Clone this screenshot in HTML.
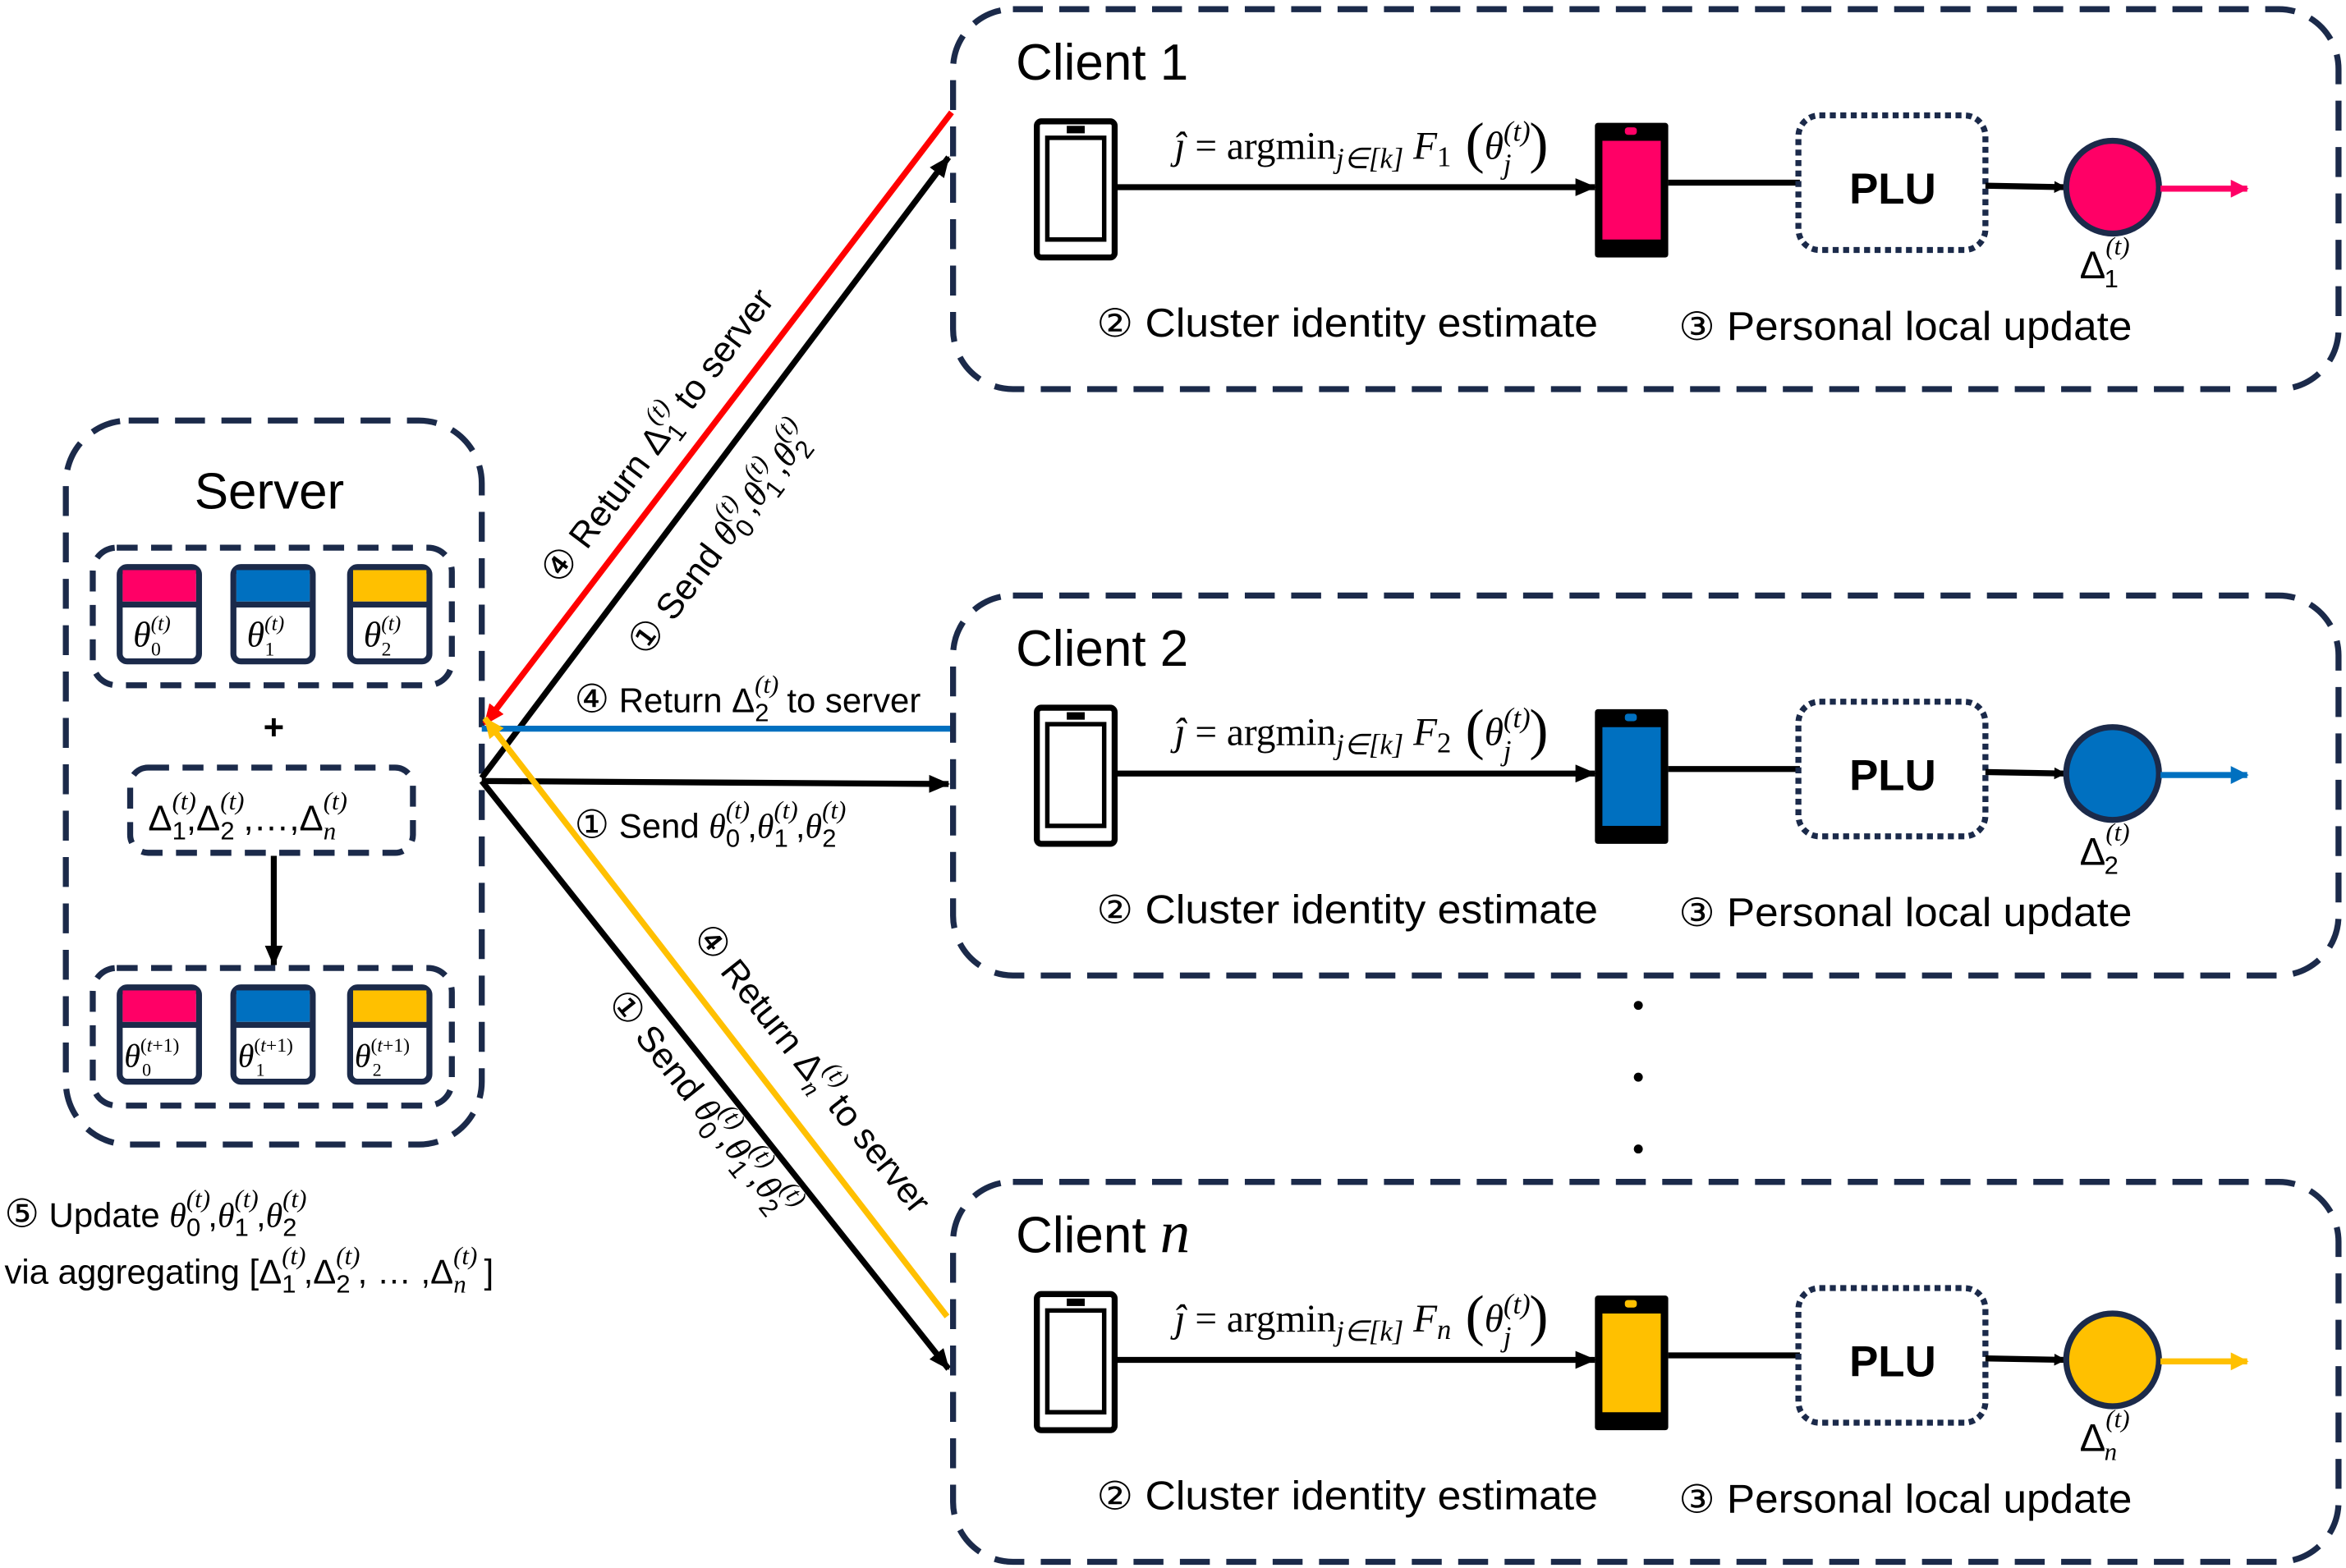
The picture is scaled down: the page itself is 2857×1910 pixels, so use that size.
<!DOCTYPE html>
<html><head><meta charset="utf-8"><style>html,body{margin:0;padding:0;background:#fff}svg{display:block}
.sp{font-size:17px}.m{font-family:"Liberation Serif",serif;font-style:italic}.c{font-family:"DejaVu Sans",sans-serif;font-size:26px}
</style></head>
<body>
<svg width="2857" height="1910" viewBox="0 0 1568 1048" xmlns="http://www.w3.org/2000/svg" font-family="Liberation Sans, DejaVu Sans, sans-serif">
<defs>
<marker id="ab" markerWidth="8" markerHeight="8" refX="7" refY="4" orient="auto" markerUnits="userSpaceOnUse"><path d="M0,0 L8,4 L0,8 z" fill="#000"/></marker>
<marker id="abig" markerWidth="14" markerHeight="12" refX="13" refY="6" orient="auto" markerUnits="userSpaceOnUse"><path d="M0,0 L14,6 L0,12 z" fill="#000"/></marker>
<marker id="ar" markerWidth="14" markerHeight="12" refX="13" refY="6" orient="auto" markerUnits="userSpaceOnUse"><path d="M0,0 L14,6 L0,12 z" fill="#ff0000"/></marker>
<marker id="ay" markerWidth="14" markerHeight="12" refX="13" refY="6" orient="auto" markerUnits="userSpaceOnUse"><path d="M0,0 L14,6 L0,12 z" fill="#ffc000"/></marker>
<marker id="ap" markerWidth="12" markerHeight="12" refX="11" refY="6" orient="auto" markerUnits="userSpaceOnUse"><path d="M0,0 L12,6 L0,12 z" fill="#ff0066"/></marker>
<marker id="abl" markerWidth="12" markerHeight="12" refX="11" refY="6" orient="auto" markerUnits="userSpaceOnUse"><path d="M0,0 L12,6 L0,12 z" fill="#0070c0"/></marker>
<marker id="ayl" markerWidth="12" markerHeight="12" refX="11" refY="6" orient="auto" markerUnits="userSpaceOnUse"><path d="M0,0 L12,6 L0,12 z" fill="#ffc000"/></marker>
</defs>

<!-- SERVER -->
<rect x="44" y="281" width="278" height="484" rx="42" fill="none" stroke="#1b2a4a" stroke-width="4" stroke-dasharray="20 11"/>
<text x="180" y="340" font-size="34" text-anchor="middle">Server</text>
<rect x="62" y="366" width="240" height="92" rx="16" fill="none" stroke="#1b2a4a" stroke-width="4" stroke-dasharray="14 9"/>
<g stroke="#1b2a4a" stroke-width="4">
<rect x="80" y="379" width="53" height="63" rx="5" fill="#fff"/><rect x="82" y="381" width="49" height="21" fill="#ff0066" stroke="none"/><line x1="80" y1="404" x2="133" y2="404"/>
<rect x="156" y="379" width="53" height="63" rx="5" fill="#fff"/><rect x="158" y="381" width="49" height="21" fill="#0070c0" stroke="none"/><line x1="156" y1="404" x2="209" y2="404"/>
<rect x="234" y="379" width="53" height="63" rx="5" fill="#fff"/><rect x="236" y="381" width="49" height="21" fill="#ffc000" stroke="none"/><line x1="234" y1="404" x2="287" y2="404"/>
</g>
<g font-family="Liberation Serif, serif" font-style="italic">
<text x="89" y="432" font-size="24">θ<tspan font-size="14" dy="-11">(t)</tspan></text><text x="101" y="438" font-size="13" font-style="normal">0</text>
<text x="165" y="432" font-size="24">θ<tspan font-size="14" dy="-11">(t)</tspan></text><text x="177" y="438" font-size="13" font-style="normal">1</text>
<text x="243" y="432" font-size="24">θ<tspan font-size="14" dy="-11">(t)</tspan></text><text x="255" y="438" font-size="13" font-style="normal">2</text>
</g>
<text x="183" y="494" font-size="24" font-weight="bold" text-anchor="middle">+</text>
<rect x="87" y="513" width="189" height="57" rx="12" fill="none" stroke="#1b2a4a" stroke-width="4" stroke-dasharray="14 9"/>
<text x="99" y="555" font-size="24">Δ<tspan class="sp m" dy="-14">(t)</tspan><tspan class="sp" dx="-16" dy="20">1</tspan><tspan dy="-6">,Δ</tspan><tspan class="sp m" dy="-14">(t)</tspan><tspan class="sp" dx="-16" dy="20">2</tspan><tspan dy="-6" dx="6">,…,Δ</tspan><tspan class="sp m" dy="-14">(t)</tspan><tspan class="sp m" dx="-16" dy="20">n</tspan></text>
<line x1="183" y1="572" x2="183" y2="645" stroke="#000" stroke-width="4" marker-end="url(#abig)"/>
<rect x="62" y="647" width="240" height="92" rx="16" fill="none" stroke="#1b2a4a" stroke-width="4" stroke-dasharray="14 9"/>
<g stroke="#1b2a4a" stroke-width="4">
<rect x="80" y="660" width="53" height="63" rx="5" fill="#fff"/><rect x="82" y="662" width="49" height="21" fill="#ff0066" stroke="none"/><line x1="80" y1="685" x2="133" y2="685"/>
<rect x="156" y="660" width="53" height="63" rx="5" fill="#fff"/><rect x="158" y="662" width="49" height="21" fill="#0070c0" stroke="none"/><line x1="156" y1="685" x2="209" y2="685"/>
<rect x="234" y="660" width="53" height="63" rx="5" fill="#fff"/><rect x="236" y="662" width="49" height="21" fill="#ffc000" stroke="none"/><line x1="234" y1="685" x2="287" y2="685"/>
</g>
<g font-family="Liberation Serif, serif" font-style="italic">
<text x="83" y="713" font-size="22">θ<tspan font-size="13" dy="-10" font-style="normal">(</tspan><tspan font-size="13">t</tspan><tspan font-size="13" font-style="normal">+1)</tspan></text><text x="95" y="719" font-size="12" font-style="normal">0</text>
<text x="159" y="713" font-size="22">θ<tspan font-size="13" dy="-10" font-style="normal">(</tspan><tspan font-size="13">t</tspan><tspan font-size="13" font-style="normal">+1)</tspan></text><text x="171" y="719" font-size="12" font-style="normal">1</text>
<text x="237" y="713" font-size="22">θ<tspan font-size="13" dy="-10" font-style="normal">(</tspan><tspan font-size="13">t</tspan><tspan font-size="13" font-style="normal">+1)</tspan></text><text x="249" y="719" font-size="12" font-style="normal">2</text>
</g>

<!-- step 5 -->
<text x="3" y="820" font-size="23"><tspan class="c">⑤</tspan> Update  <tspan class="m">θ</tspan><tspan class="sp m" dy="-13">(t)</tspan><tspan class="sp" dx="-16" dy="19">0</tspan><tspan dx="5" dy="-6">,</tspan><tspan class="m">θ</tspan><tspan class="sp m" dy="-13">(t)</tspan><tspan class="sp" dx="-16" dy="19">1</tspan><tspan dx="5" dy="-6">,</tspan><tspan class="m">θ</tspan><tspan class="sp m" dy="-13">(t)</tspan><tspan class="sp" dx="-16" dy="19">2</tspan></text>
<text x="3" y="858" font-size="23">via aggregating [Δ<tspan class="sp m" dy="-13">(t)</tspan><tspan class="sp" dx="-16" dy="19">1</tspan><tspan dx="5" dy="-6">,Δ</tspan><tspan class="sp m" dy="-13">(t)</tspan><tspan class="sp" dx="-16" dy="19">2</tspan><tspan dx="5" dy="-6">, … ,Δ</tspan><tspan class="sp m" dy="-13">(t)</tspan><tspan class="sp m" dx="-16" dy="19">n</tspan><tspan dx="12" dy="-6">]</tspan></text>

<!-- connectors -->
<line x1="322" y1="520" x2="634" y2="105" stroke="#000" stroke-width="4" marker-end="url(#abig)"/>
<line x1="636" y1="75" x2="324" y2="484" stroke="#ff0000" stroke-width="4" marker-end="url(#ar)"/>
<line x1="636" y1="487" x2="322" y2="487" stroke="#0070c0" stroke-width="4"/>
<line x1="322" y1="522" x2="634" y2="524" stroke="#000" stroke-width="4" marker-end="url(#abig)"/>
<line x1="633" y1="880" x2="324" y2="480" stroke="#ffc000" stroke-width="4" marker-end="url(#ay)"/>
<line x1="322" y1="522" x2="634" y2="915" stroke="#000" stroke-width="4" marker-end="url(#abig)"/>

<text x="384" y="476" font-size="23"><tspan class="c">④</tspan> Return Δ<tspan class="sp m" dy="-13">(t)</tspan><tspan class="sp" dx="-16" dy="19">2</tspan><tspan dx="12" dy="-6">to server</tspan></text>
<text x="384" y="560" font-size="23"><tspan class="c">①</tspan> Send <tspan class="m">θ</tspan><tspan class="sp m" dy="-13">(t)</tspan><tspan class="sp" dx="-16" dy="19">0</tspan><tspan dx="5" dy="-6">,</tspan><tspan class="m">θ</tspan><tspan class="sp m" dy="-13">(t)</tspan><tspan class="sp" dx="-16" dy="19">1</tspan><tspan dx="5" dy="-6">,</tspan><tspan class="m">θ</tspan><tspan class="sp m" dy="-13">(t)</tspan><tspan class="sp" dx="-16" dy="19">2</tspan></text>

<g transform="translate(374,392) rotate(-53)"><text x="0" y="0" font-size="24"><tspan class="c">④</tspan> Return Δ<tspan class="sp m" dy="-13">(t)</tspan><tspan class="sp" dx="-16" dy="19">1</tspan><tspan dx="12" dy="-6">to server</tspan></text></g>
<g transform="translate(432,440) rotate(-53)"><text x="0" y="0" font-size="24"><tspan class="c">①</tspan> Send <tspan class="m">θ</tspan><tspan class="sp m" dy="-13">(t)</tspan><tspan class="sp" dx="-16" dy="19">0</tspan><tspan dx="5" dy="-6">,</tspan><tspan class="m">θ</tspan><tspan class="sp m" dy="-13">(t)</tspan><tspan class="sp" dx="-16" dy="19">1</tspan><tspan dx="5" dy="-6">,</tspan><tspan class="m">θ</tspan><tspan class="sp m" dy="-13">(t)</tspan><tspan class="sp" dx="-16" dy="19">2</tspan></text></g>
<g transform="translate(462,626) rotate(51.5)"><text x="0" y="0" font-size="24"><tspan class="c">④</tspan> Return Δ<tspan class="sp m" dy="-13">(t)</tspan><tspan class="sp m" dx="-16" dy="19">n</tspan><tspan dx="12" dy="-6">to server</tspan></text></g>
<g transform="translate(405,670) rotate(51.5)"><text x="0" y="0" font-size="24"><tspan class="c">①</tspan> Send <tspan class="m">θ</tspan><tspan class="sp m" dy="-13">(t)</tspan><tspan class="sp" dx="-16" dy="19">0</tspan><tspan dx="5" dy="-6">,</tspan><tspan class="m">θ</tspan><tspan class="sp m" dy="-13">(t)</tspan><tspan class="sp" dx="-16" dy="19">1</tspan><tspan dx="5" dy="-6">,</tspan><tspan class="m">θ</tspan><tspan class="sp m" dy="-13">(t)</tspan><tspan class="sp" dx="-16" dy="19">2</tspan></text></g>

<!-- dots -->
<circle cx="1095" cy="672" r="3" fill="#000"/><circle cx="1095" cy="720" r="3" fill="#000"/><circle cx="1095" cy="768" r="3" fill="#000"/>

<!-- CLIENTS -->
<g>
<rect x="637" y="6" width="926" height="254" rx="40" fill="none" stroke="#1b2a4a" stroke-width="4" stroke-dasharray="20 11"/>
<text x="679" y="53" font-size="34">Client 1</text>
<rect x="693" y="81" width="52" height="91" rx="3" fill="#fff" stroke="#000" stroke-width="4"/>
<rect x="700" y="92" width="38" height="68" fill="none" stroke="#000" stroke-width="3"/>
<rect x="713" y="84" width="12" height="5" fill="#000"/>
<line x1="745" y1="125" x2="1066" y2="125" stroke="#000" stroke-width="4" marker-end="url(#abig)"/>
<text x="785" y="106" font-family="Liberation Serif, serif" font-size="26"><tspan font-style="italic">ĵ</tspan> = argmin<tspan font-size="19" dy="6" font-style="italic">j∈[k]</tspan><tspan dy="-6" font-style="italic"> F</tspan><tspan font-size="19" dy="5">1</tspan><tspan dy="-3" font-size="38"> (</tspan><tspan font-style="italic" dy="-2">θ</tspan><tspan font-size="19" dy="-12" font-style="italic">(t)</tspan><tspan font-size="19" dx="-18" dy="22" font-style="italic">j</tspan><tspan font-size="38" dx="12" dy="-8">)</tspan></text>
<rect x="1066" y="82" width="49" height="90" rx="2" fill="#000"/>
<rect x="1071" y="94" width="39" height="66" fill="#ff0066"/>
<rect x="1086" y="85" width="8" height="5" rx="2" fill="#ff0066"/>
<line x1="1115" y1="122" x2="1203" y2="122" stroke="#000" stroke-width="4"/>
<rect x="1202" y="77" width="125" height="90" rx="14" fill="none" stroke="#1b2a4a" stroke-width="4" stroke-dasharray="4 3"/>
<text x="1265" y="136" font-size="29" font-weight="bold" text-anchor="middle">PLU</text>
<line x1="1327" y1="124" x2="1380" y2="125" stroke="#000" stroke-width="4" marker-end="url(#ab)"/>
<ellipse cx="1412" cy="125" rx="31" ry="31" fill="#ff0066" stroke="#1b2a4a" stroke-width="4"/>
<line x1="1444" y1="126" x2="1502" y2="126" stroke="#ff0066" stroke-width="4" marker-end="url(#ap)"/>
<text x="1390" y="186" font-size="26">Δ<tspan class="sp m" dy="-16">(t)</tspan><tspan class="sp" dx="-17" dy="22">1</tspan></text>
<text x="733" y="225" font-size="27" textLength="335" lengthAdjust="spacingAndGlyphs"><tspan class="c">②</tspan> Cluster identity estimate</text>
<text x="1122" y="227" font-size="27" textLength="303" lengthAdjust="spacingAndGlyphs"><tspan class="c">③</tspan> Personal local update</text>
</g>
<g transform="translate(0,392)">
<rect x="637" y="6" width="926" height="254" rx="40" fill="none" stroke="#1b2a4a" stroke-width="4" stroke-dasharray="20 11"/>
<text x="679" y="53" font-size="34">Client 2</text>
<rect x="693" y="81" width="52" height="91" rx="3" fill="#fff" stroke="#000" stroke-width="4"/>
<rect x="700" y="92" width="38" height="68" fill="none" stroke="#000" stroke-width="3"/>
<rect x="713" y="84" width="12" height="5" fill="#000"/>
<line x1="745" y1="125" x2="1066" y2="125" stroke="#000" stroke-width="4" marker-end="url(#abig)"/>
<text x="785" y="106" font-family="Liberation Serif, serif" font-size="26"><tspan font-style="italic">ĵ</tspan> = argmin<tspan font-size="19" dy="6" font-style="italic">j∈[k]</tspan><tspan dy="-6" font-style="italic"> F</tspan><tspan font-size="19" dy="5">2</tspan><tspan dy="-3" font-size="38"> (</tspan><tspan font-style="italic" dy="-2">θ</tspan><tspan font-size="19" dy="-12" font-style="italic">(t)</tspan><tspan font-size="19" dx="-18" dy="22" font-style="italic">j</tspan><tspan font-size="38" dx="12" dy="-8">)</tspan></text>
<rect x="1066" y="82" width="49" height="90" rx="2" fill="#000"/>
<rect x="1071" y="94" width="39" height="66" fill="#0070c0"/>
<rect x="1086" y="85" width="8" height="5" rx="2" fill="#0070c0"/>
<line x1="1115" y1="122" x2="1203" y2="122" stroke="#000" stroke-width="4"/>
<rect x="1202" y="77" width="125" height="90" rx="14" fill="none" stroke="#1b2a4a" stroke-width="4" stroke-dasharray="4 3"/>
<text x="1265" y="136" font-size="29" font-weight="bold" text-anchor="middle">PLU</text>
<line x1="1327" y1="124" x2="1380" y2="125" stroke="#000" stroke-width="4" marker-end="url(#ab)"/>
<ellipse cx="1412" cy="125" rx="31" ry="31" fill="#0070c0" stroke="#1b2a4a" stroke-width="4"/>
<line x1="1444" y1="126" x2="1502" y2="126" stroke="#0070c0" stroke-width="4" marker-end="url(#abl)"/>
<text x="1390" y="186" font-size="26">Δ<tspan class="sp m" dy="-16">(t)</tspan><tspan class="sp" dx="-17" dy="22">2</tspan></text>
<text x="733" y="225" font-size="27" textLength="335" lengthAdjust="spacingAndGlyphs"><tspan class="c">②</tspan> Cluster identity estimate</text>
<text x="1122" y="227" font-size="27" textLength="303" lengthAdjust="spacingAndGlyphs"><tspan class="c">③</tspan> Personal local update</text>
</g>
<g transform="translate(0,784)">
<rect x="637" y="6" width="926" height="254" rx="40" fill="none" stroke="#1b2a4a" stroke-width="4" stroke-dasharray="20 11"/>
<text x="679" y="53" font-size="34">Client <tspan font-family="Liberation Serif, serif" font-style="italic" font-size="40">n</tspan></text>
<rect x="693" y="81" width="52" height="91" rx="3" fill="#fff" stroke="#000" stroke-width="4"/>
<rect x="700" y="92" width="38" height="68" fill="none" stroke="#000" stroke-width="3"/>
<rect x="713" y="84" width="12" height="5" fill="#000"/>
<line x1="745" y1="125" x2="1066" y2="125" stroke="#000" stroke-width="4" marker-end="url(#abig)"/>
<text x="785" y="106" font-family="Liberation Serif, serif" font-size="26"><tspan font-style="italic">ĵ</tspan> = argmin<tspan font-size="19" dy="6" font-style="italic">j∈[k]</tspan><tspan dy="-6" font-style="italic"> F</tspan><tspan font-size="19" dy="5" font-style="italic">n</tspan><tspan dy="-3" font-size="38"> (</tspan><tspan font-style="italic" dy="-2">θ</tspan><tspan font-size="19" dy="-12" font-style="italic">(t)</tspan><tspan font-size="19" dx="-18" dy="22" font-style="italic">j</tspan><tspan font-size="38" dx="12" dy="-8">)</tspan></text>
<rect x="1066" y="82" width="49" height="90" rx="2" fill="#000"/>
<rect x="1071" y="94" width="39" height="66" fill="#ffc000"/>
<rect x="1086" y="85" width="8" height="5" rx="2" fill="#ffc000"/>
<line x1="1115" y1="122" x2="1203" y2="122" stroke="#000" stroke-width="4"/>
<rect x="1202" y="77" width="125" height="90" rx="14" fill="none" stroke="#1b2a4a" stroke-width="4" stroke-dasharray="4 3"/>
<text x="1265" y="136" font-size="29" font-weight="bold" text-anchor="middle">PLU</text>
<line x1="1327" y1="124" x2="1380" y2="125" stroke="#000" stroke-width="4" marker-end="url(#ab)"/>
<ellipse cx="1412" cy="125" rx="31" ry="31" fill="#ffc000" stroke="#1b2a4a" stroke-width="4"/>
<line x1="1444" y1="126" x2="1502" y2="126" stroke="#ffc000" stroke-width="4" marker-end="url(#ayl)"/>
<text x="1390" y="186" font-size="26">Δ<tspan class="sp m" dy="-16">(t)</tspan><tspan class="sp m" dx="-17" dy="22">n</tspan></text>
<text x="733" y="225" font-size="27" textLength="335" lengthAdjust="spacingAndGlyphs"><tspan class="c">②</tspan> Cluster identity estimate</text>
<text x="1122" y="227" font-size="27" textLength="303" lengthAdjust="spacingAndGlyphs"><tspan class="c">③</tspan> Personal local update</text>
</g>
</svg>
</body></html>
